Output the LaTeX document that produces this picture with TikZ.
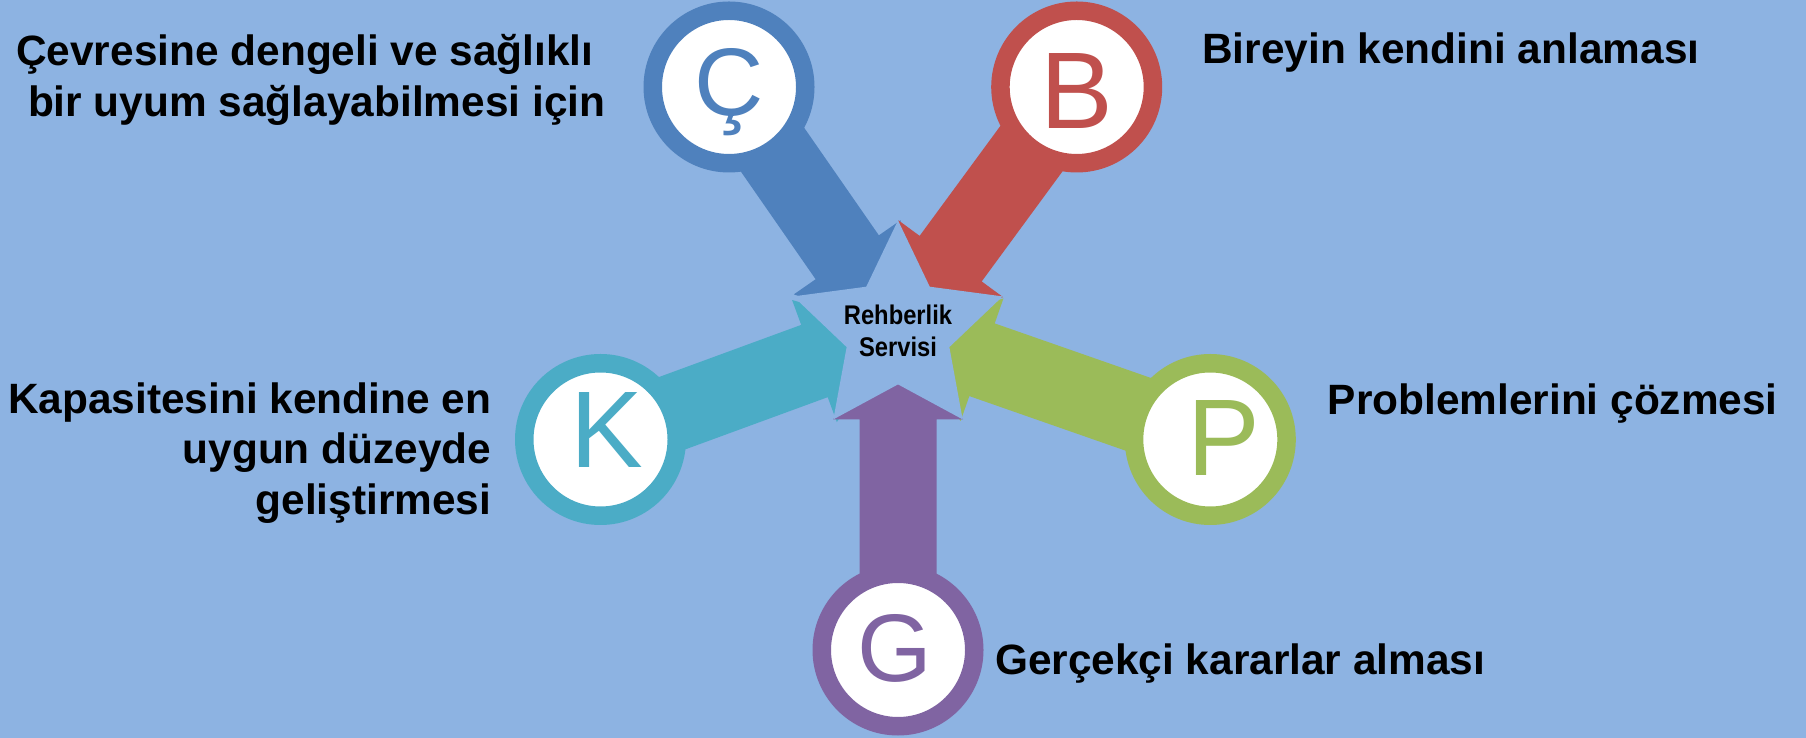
\documentclass[tikz,border=0pt]{standalone}
\usepackage{fontspec}
\setmainfont{Liberation Sans}
\newfontfamily\labelfont{Liberation Sans Bold}
\newfontfamily\starfont[FakeStretch=0.88]{Liberation Sans Bold}
\usetikzlibrary{calc,backgrounds}

\definecolor{bgblue}{RGB}{141,179,226}
\definecolor{cblue}{RGB}{79,129,189}
\definecolor{cred}{RGB}{192,80,77}
\definecolor{cgreen}{RGB}{155,187,89}
\definecolor{cpurple}{RGB}{128,100,162}
\definecolor{cteal}{RGB}{75,172,198}

\tikzset{
  ring/.style={circle,draw=#1,fill=white,line width=18.5pt,minimum size=152.5pt,inner sep=0pt},
  bigletter/.style={text=#1,anchor=base,inner sep=0pt},
  goal/.style={inner sep=0pt,font=\fontsize{42.4}{50.5}\labelfont},
}

\begin{document}
\begin{tikzpicture}[x=1pt,y=1pt]
  \useasboundingbox (0,0) rectangle (1806,738);
  % circles
  \node[ring=cblue]   (cC) at (729,651) {};
  \node[ring=cred]    (cB) at (1076.7,651) {};
  \node[ring=cteal]   (cK) at (600.5,298.5) {};
  \node[ring=cgreen]  (cP) at (1210.3,298.5) {};
  \node[ring=cpurple] (cG) at (898,88) {};
  % letters
  \node[bigletter=cblue,font=\fontsize{96}{96}\selectfont]     (lC) at (729,622.5) {Ç};
  \node[bigletter=cred,font=\fontsize{109}{109}\selectfont]    (lB) at (1076.7,609.7) {B};
  \node[bigletter=cteal,font=\fontsize{109}{109}\selectfont]   (lK) at (606.6,270.3) {K};
  \node[bigletter=cgreen,font=\fontsize{109}{109}\selectfont]  (lP) at (1223.6,262) {P};
  \node[bigletter=cpurple,font=\fontsize{96}{96}\selectfont]   (lG) at (894.8,56) {G};
  % centre
  \node[inner sep=0pt,align=center,font=\fontsize{27}{32}\starfont] (srv) at (898,407.6) {Rehberlik\\Servisi};
  % labels
  \node[goal,anchor=north west,align=left,font=\fontsize{42.4}{51}\labelfont] (tC) at (16,704)
    {Çevresine dengeli ve sağlıklı\\\hspace*{11.8pt}bir uyum sağlayabilmesi için};
  \node[goal,anchor=base west] (tB) at (1202,674.5) {Bireyin kendini anlaması};
  \node[goal,anchor=north east,align=right] (tK) at (491.5,355.7) {Kapasitesini kendine en\\uygun düzeyde\\geliştirmesi};
  \node[goal,anchor=base west] (tP) at (1327.5,323.7) {Problemlerini çözmesi};
  \node[goal,anchor=base west] (tG) at (994.8,63) {Gerçekçi kararlar alması};
  \begin{scope}[on background layer]
    \fill[bgblue] (0,0) rectangle (1806,738);
    % arrows
    \foreach \cn/\cl in {cC/cblue,cB/cred,cK/cteal,cP/cgreen,cG/cpurple} {
      \coordinate (hb) at ($(srv.center)!89pt!(\cn.center)$);
      \fill[\cl] ($(\cn.center)!38.5pt!90:(srv.center)$) -- ($(hb)!38.5pt!90:(srv.center)$)
        -- ($(hb)!65pt!90:(srv.center)$) -- (srv.center) -- ($(hb)!65pt!-90:(srv.center)$)
        -- ($(hb)!38.5pt!-90:(srv.center)$) -- ($(\cn.center)!38.5pt!-90:(srv.center)$) -- cycle;
    }
    % star
    \begin{scope}[shift={(srv.center)}]
      \fill[bgblue] (90:110) -- (126:54) -- (162:110) -- (198:54) -- (234:110) -- (270:54)
        -- (306:110) -- (342:54) -- (18:110) -- (54:54) -- cycle;
    \end{scope}
  \end{scope}
\end{tikzpicture}
\end{document}
